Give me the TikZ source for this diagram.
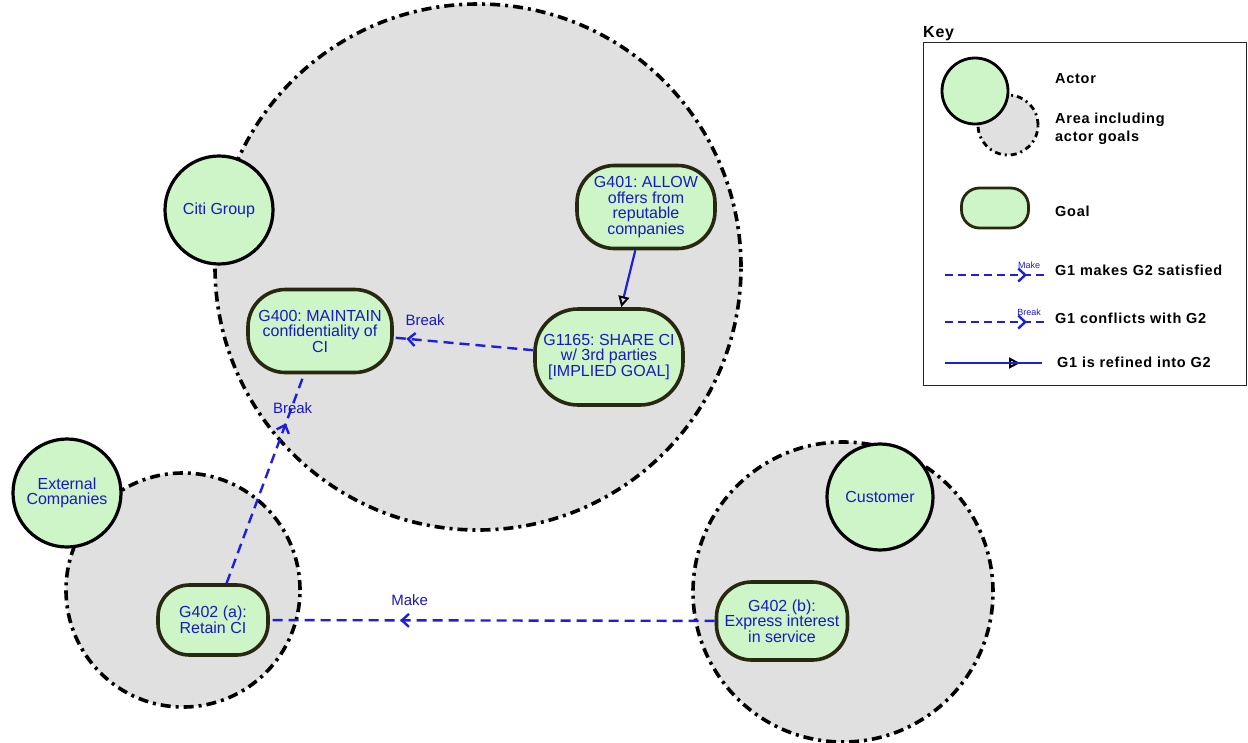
\documentclass[tikz,border=0pt]{standalone}
\usepackage{fontspec}
\setmainfont{Liberation Sans}
\newfontfamily\keyfont{Liberation Sans}[LetterSpace=5]
\usetikzlibrary{arrows.meta,decorations.markings}
\frenchspacing

\definecolor{goalgreen}{RGB}{205,245,200}
\definecolor{areagray}{RGB}{224,224,224}
\definecolor{goalline}{RGB}{40,40,16}
\definecolor{linkblue}{RGB}{30,30,220}
\definecolor{textblue}{RGB}{25,25,190}

\newcommand{\goalfont}{\fontsize{16}{15.5}\selectfont}
\newcommand{\keytext}{\keyfont\bfseries\fontsize{14.5}{18}\selectfont}

\tikzset{
  goalarea/.style={circle, draw=black, fill=areagray, line width=3.6pt,
    dash pattern=on 10pt off 5pt on 3pt off 5pt, minimum size=#1, inner sep=0pt},
  actornode/.style={circle, draw=black, fill=goalgreen, line width=3.2pt,
    minimum size=#1, inner sep=0pt, text=textblue, font=\goalfont, align=center},
  goalnode/.style 2 args={rectangle, rounded corners={0.45*#2}, draw=goalline,
    fill=goalgreen, line width=3.6pt, minimum width=#1, minimum height=#2,
    inner sep=0pt, text=textblue, font=\goalfont, align=center},
  makelink/.style={draw=linkblue, line width=2.4pt, dash pattern=on 10pt off 6pt},
  breaklink/.style={makelink},
  refinelink/.style={draw=linkblue, line width=2.2pt},
  tipat/.style={postaction={decorate, decoration={markings,
    mark=at position #1 with {\arrow[linkblue, line width=2.4pt]{Straight Barb[length=7pt, width=13pt]}}}}},
  refinetip/.style={-{Triangle[open, color=black, length=11pt, width=11pt, line width=2pt]}},
  linklabel/.style={text=textblue, font=\fontsize{15}{15}\selectfont, inner sep=0pt, anchor=south west},
  keylabel/.style={font=\keytext, anchor=west, inner sep=0pt, align=left},
  keysmall/.style={text=textblue, font=\fontsize{9}{9}\selectfont, inner sep=0pt, above=5pt}
}

\begin{document}
\begin{tikzpicture}[x=1pt, y=-1pt]
  \useasboundingbox (0,0) rectangle (1248,742);

  % areas of the actors
  \node[goalarea=526pt] (citiarea) at (478,267) {};
  \node[goalarea=234pt] (extarea) at (183,590) {};
  \node[goalarea=300pt] (custarea) at (843,592) {};

  % actors
  \node[actornode=108pt] (citi) at (219,210) {Citi Group};
  \node[actornode=108pt] (extcomp) at (67,493) {External\\Companies};
  \node[actornode=106pt] (customer) at (880,497) {Customer};

  % goals
  \node[goalnode={138pt}{83pt}] (g401) at (646,207) {G401: ALLOW\\offers from\\reputable\\companies};
  \node[goalnode={148pt}{96pt}] (g1165) at (609,357) {G1165: SHARE CI\\w/ 3rd parties\\{[IMPLIED GOAL]}};
  \node[goalnode={144pt}{83pt}] (g400) at (320,331) {G400: MAINTAIN\\confidentiality of\\CI};
  \node[goalnode={110pt}{70pt}] (g402a) at (213,620) {G402 (a):\\Retain CI};
  \node[goalnode={131pt}{78pt}] (g402b) at (782,621) {G402 (b):\\Express interest\\in service};

  % links
  \draw[refinelink, refinetip] (g401) -- (g1165);
  \draw[breaklink, tipat=0.91] (g1165) -- (g400)
    node[linklabel, pos=0.91, xshift=-2pt, yshift=12pt] {Break};
  \draw[breaklink, tipat=0.765] (g402a) -- (g400)
    node[linklabel, pos=0.765, xshift=-14pt, yshift=9pt] {Break};
  \draw[makelink, tipat=0.707] (g402b) -- (g402a)
    node[linklabel, pos=0.707, xshift=-10pt, yshift=13pt] {Make};

  % key
  \node[font=\keyfont\bfseries\fontsize{16}{16}\selectfont, anchor=base west, inner sep=0pt] (keytitle) at (923,37) {Key};
  \node[draw=black!85, line width=1.4pt, minimum width=323pt, minimum height=343pt,
    anchor=north west, inner sep=0pt] (keybox) at (923,42) {};

  \node[goalarea=60pt, line width=2.8pt, dash pattern=on 6pt off 4pt on 2pt off 4pt] (keyarea) at (1008,125) {};
  \node[actornode=66pt, line width=2.8pt] (keyactor) at (975,91) {};
  \node[goalnode={67pt}{40pt}, line width=2.8pt] (keygoal) at (995,208) {};

  \node[keylabel] (keyactortxt) at (1055,79) {Actor};
  \node[keylabel] (keyareatxt) at (1055,129) {Area including\\actor goals};
  \node[keylabel] (keygoaltxt) at (1055,211) {Goal};
  \node[keylabel] (keymaketxt) at (1055,270) {G1 makes G2 satisfied};
  \node[keylabel] (keybreaktxt) at (1055,318) {G1 conflicts with G2};
  \node[keylabel] (keyrefinetxt) at (1057,362) {G1 is refined into G2};

  \coordinate (makeA) at (945,275);
  \coordinate (makeB) at (1045,275);
  \coordinate (breakA) at (945,322);
  \coordinate (breakB) at (1045,322);
  \coordinate (refineA) at (945,363);
  \coordinate (refineB) at (1042,363);

  \draw[makelink, line width=2pt, dash pattern=on 8pt off 5pt, tipat=0.82] (makeA) -- (makeB)
    node[keysmall, pos=0.84] {Make};
  \draw[breaklink, line width=2pt, dash pattern=on 8pt off 5pt, tipat=0.82] (breakA) -- (breakB)
    node[keysmall, pos=0.84] {Break};
  \draw[refinelink, line width=1.8pt, refinetip, shorten >=22pt] (refineA) -- (refineB);
  \draw[refinelink, line width=1.8pt] (refineA) -- (refineB);

\end{tikzpicture}
\end{document}
